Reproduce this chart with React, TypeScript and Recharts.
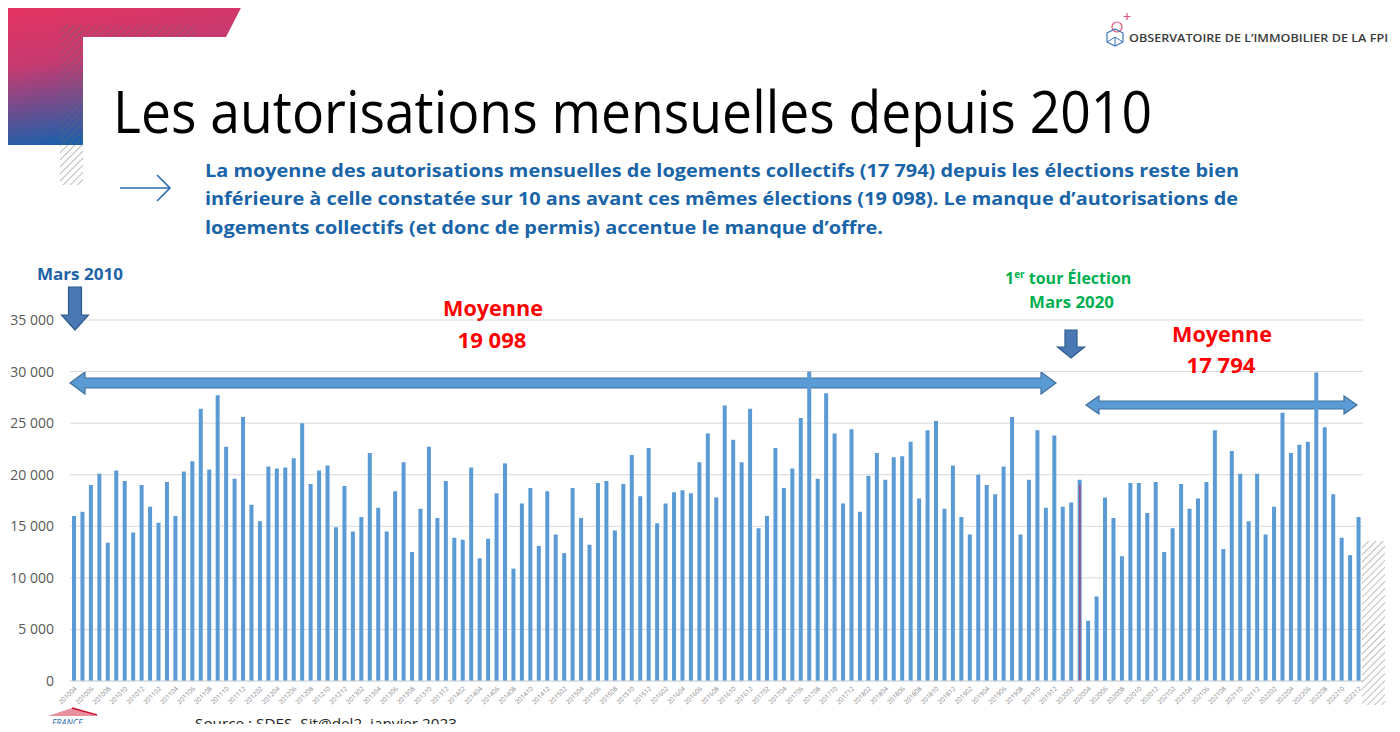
import React from 'react';
import { BarChart, Bar, XAxis, YAxis, CartesianGrid, ReferenceLine } from 'recharts';

// autorisations mensuelles de logements collectifs
const v2010 = [16000, 16400, 19000, 20100, 13400, 20400, 19400, 14400, 19000]; // avril -> décembre
const v2011 = [16900, 15350, 19300, 16000, 20300, 21300, 26400, 20500, 27700, 22700, 19600, 25600];
const v2012 = [17100, 15500, 20800, 20600, 20700, 21600, 25000, 19100, 20400, 20900, 14900, 18900];
const v2013 = [14500, 15900, 22100, 16800, 14500, 18400, 21200, 12500, 16700, 22700, 15800, 19400];
const v2014 = [13900, 13700, 20700, 11900, 13800, 18200, 21100, 10900, 17200, 18700, 13100, 18400];
const v2015 = [14200, 12400, 18700, 15800, 13200, 19200, 19400, 14600, 19100, 21900, 17900, 22600];
const v2016 = [15300, 17200, 18300, 18500, 18200, 21200, 24000, 17800, 26700, 23400, 21200, 26400];
const v2017 = [14800, 16000, 22600, 18700, 20600, 25500, 30000, 19600, 27900, 24000, 17200, 24400];
const v2018 = [16400, 19900, 22100, 19500, 21700, 21800, 23200, 17700, 24300, 25200, 16700, 20900];
const v2019 = [15900, 14200, 20000, 19000, 18100, 20800, 25600, 14200, 19500, 24300, 16800, 23800];
const v2020 = [16900, 17300, 19500, 5840, 8200, 17800, 15800, 12100, 19200, 19200, 16300, 19300];
const v2021 = [12500, 14800, 19100, 16700, 17700, 19300, 24300, 12800, 22300, 20100, 15500, 20100];
const v2022 = [14200, 16900, 26000, 22100, 22900, 23200, 29900, 24600, 18100, 13900, 12200, 15900];

const years = [2010, 2011, 2012, 2013, 2014, 2015, 2016, 2017, 2018, 2019, 2020, 2021, 2022];
const values = [v2010, v2011, v2012, v2013, v2014, v2015, v2016, v2017, v2018, v2019, v2020, v2021, v2022];
const firstMonth = 4;

const yTicks = [0, 5000, 10000, 15000, 20000, 25000, 30000, 35000];
const electionMonth = '202003';
const electionValue = 19000;

const data = years.flatMap((year, i) =>
  values[i].map((value, j) => {
    const m = (i === 0 ? firstMonth : 1) + j;
    return { month: `${year}${String(m).padStart(2, '0')}`, value };
  })
);

const fmt = (n: number) => String(n).replace(/\B(?=(\d{3})+(?!\d))/g, ' ');

const MonthTick = (props: any) => {
  const { x, y, payload } = props;
  return (
    <text
      transform={`translate(${x + 3},${y + 6}) rotate(-45)`}
      textAnchor="end"
      fontSize={6.5}
      fill="#8a8a8a"
      fontFamily="'Open Sans', sans-serif"
    >
      {payload.value}
    </text>
  );
};

const DoubleArrow = ({ x1, x2, y, shaft, head, len }: any) => (
  <polygon
    points={[
      [x1, y],
      [x1 + len, y - head / 2],
      [x1 + len, y - shaft / 2],
      [x2 - len, y - shaft / 2],
      [x2 - len, y - head / 2],
      [x2, y],
      [x2 - len, y + head / 2],
      [x2 - len, y + shaft / 2],
      [x1 + len, y + shaft / 2],
      [x1 + len, y + head / 2],
    ]
      .map((p) => p.join(','))
      .join(' ')}
    fill="#5b9bd5"
    stroke="#41719c"
    strokeWidth={1.2}
  />
);

const DownArrow = ({ x, y1, y2, shaft, head, len }: any) => (
  <polygon
    points={[
      [x - shaft / 2, y1],
      [x + shaft / 2, y1],
      [x + shaft / 2, y2 - len],
      [x + head / 2, y2 - len],
      [x, y2],
      [x - head / 2, y2 - len],
      [x - shaft / 2, y2 - len],
    ]
      .map((p) => p.join(','))
      .join(' ')}
    fill="#4a78b4"
    stroke="#2f5b8c"
    strokeWidth={1.2}
  />
);

export default function App() {
  const sans = "'Open Sans', 'Noto Sans', sans-serif";
  return (
    <div style={{ position: 'relative', width: 1400, height: 732, margin: -8, overflow: 'hidden', background: '#fff' }}>
      {/* flèches de période, sous les barres */}
      <svg width={1400} height={732} style={{ position: 'absolute', left: 0, top: 0 }}>
        <DoubleArrow x1={70} x2={1056} y={383} shaft={10} head={22} len={15} />
        <DoubleArrow x1={1086} x2={1357} y={405} shaft={8} head={18} len={13} />
      </svg>

      <div style={{ position: 'absolute', left: 0, top: 0 }}>
        <BarChart
          width={1400}
          height={732}
          data={data}
          margin={{ top: 320, right: 37, left: 0, bottom: 0 }}
          barSize={4}
        >
          <CartesianGrid vertical={false} stroke="#d9d9d9" />
          <XAxis
            dataKey="month"
            interval={1}
            height={51}
            tickLine={false}
            tickSize={0}
            axisLine={{ stroke: '#d9d9d9' }}
            tick={<MonthTick />}
          />
          <YAxis
            width={70}
            domain={[0, 35000]}
            ticks={yTicks}
            tickFormatter={fmt}
            axisLine={false}
            tickLine={false}
            tickSize={0}
            tickMargin={16}
            tick={{ fill: '#595959', fontSize: 14, fontFamily: sans }}
          />
          <Bar dataKey="value" fill="#5b9bd5" barSize={4} isAnimationActive={false} />
          <ReferenceLine
            segment={[
              { x: electionMonth, y: 0 },
              { x: electionMonth, y: electionValue },
            ]}
            stroke="#a8467c"
            strokeWidth={1.5}
            ifOverflow="visible"
          />
        </BarChart>
      </div>

      {/* habillage de la diapositive */}
      <svg width={1400} height={732} style={{ position: 'absolute', left: 0, top: 0, pointerEvents: 'none' }}>
        <defs>
          <linearGradient id="deco" x1="0" y1="0" x2="0.25" y2="1">
            <stop offset="0" stopColor="#ea3360" />
            <stop offset="0.45" stopColor="#c63a70" />
            <stop offset="1" stopColor="#1a60ab" />
          </linearGradient>
          <pattern id="hatch" width="5" height="5" patternUnits="userSpaceOnUse" patternTransform="rotate(45)">
            <line x1="0" y1="0" x2="0" y2="5" stroke="#6a6a6a" strokeWidth={0.9} />
          </pattern>
        </defs>
        <polygon points="0,0 245,0 226,37 83,37 83,145 0,145" fill="url(#deco)" />
        <rect x={60} y={25} width={136} height={12} fill="url(#hatch)" />
        <rect x={60} y={25} width={23} height={160} fill="url(#hatch)" />
        <rect x={1362} y={541} width={23} height={164} fill="url(#hatch)" />

        {/* logo */}
        <circle cx={1117} cy={27} r={5} fill="none" stroke="#e2557a" strokeWidth={1.2} />
        <path d="M1127 13 v7 M1123.5 16.5 h7" stroke="#e2557a" strokeWidth={1.2} />
        <polygon points="1107,33 1115,29 1123,33 1123,42 1115,46 1107,42" fill="none" stroke="#3d74b8" strokeWidth={1.2} />
        <path d="M1107,42 L1115,37 L1123,42 M1115,37 V46" stroke="#3d74b8" strokeWidth={1} fill="none" />
        <text x={1129} y={42} fontSize={10} fontWeight={600} fill="#3a3a3a" fontFamily={sans} textLength={259} lengthAdjust="spacingAndGlyphs">
          OBSERVATOIRE DE L’IMMOBILIER DE LA FPI
        </text>

        <text x={113} y={133} fontSize={58} fill="#000" fontFamily={sans} textLength={1039} lengthAdjust="spacingAndGlyphs">
          Les autorisations mensuelles depuis 2010
        </text>

        <path d="M120 188 H169 M157 175 L170 188 L157 201" stroke="#2e6db0" strokeWidth={1.6} fill="none" />
        <g fontSize={18} fontWeight={700} fill="#1a64a8" fontFamily={sans}>
          <text x={205} y={177} textLength={1034} lengthAdjust="spacingAndGlyphs">
            La moyenne des autorisations mensuelles de logements collectifs (17 794) depuis les élections reste bien
          </text>
          <text x={205} y={205} textLength={1033} lengthAdjust="spacingAndGlyphs">
            inférieure à celle constatée sur 10 ans avant ces mêmes élections (19 098). Le manque d’autorisations de
          </text>
          <text x={205} y={234} textLength={678} lengthAdjust="spacingAndGlyphs">
            logements collectifs (et donc de permis) accentue le manque d’offre.
          </text>
        </g>

        {/* annotations du graphique */}
        <text x={37} y={280} fontSize={16} fontWeight={700} fill="#1e63a5" fontFamily={sans} textLength={86} lengthAdjust="spacingAndGlyphs">
          Mars 2010
        </text>
        <DownArrow x={75} y1={287} y2={330} shaft={13} head={27} len={15} />

        <g fontSize={21} fontWeight={700} fill="#ff0000" fontFamily={sans} textAnchor="middle">
          <text x={493} y={316} textLength={100} lengthAdjust="spacingAndGlyphs">Moyenne</text>
          <text x={492} y={348} textLength={69} lengthAdjust="spacingAndGlyphs">19 098</text>
          <text x={1222} y={342} textLength={100} lengthAdjust="spacingAndGlyphs">Moyenne</text>
          <text x={1221} y={373} textLength={69} lengthAdjust="spacingAndGlyphs">17 794</text>
        </g>

        <g fontSize={16} fontWeight={700} fill="#00b050" fontFamily={sans}>
          <text x={1005} y={284}>
            1<tspan fontSize={10} dy={-6}>er</tspan>
            <tspan dy={6}> tour Élection</tspan>
          </text>
          <text x={1029} y={308} textLength={85} lengthAdjust="spacingAndGlyphs">Mars 2020</text>
        </g>
        <DownArrow x={1071} y1={330} y2={358} shaft={12} head={27} len={11} />

        {/* pied de page */}
        <polygon points="48,716 72,708 97,716" fill="#e8909e" />
        <path d="M72 708 L97 715" stroke="#c8102e" strokeWidth={1.5} />
        <text x={52} y={726} fontSize={9} fontStyle="italic" fill="#2b6cb0" fontFamily={sans}>FRANCE</text>
        <text x={195} y={729} fontSize={15} fill="#222" fontFamily={sans} textLength={262} lengthAdjust="spacingAndGlyphs">
          Source : SDES, Sit@del2, janvier 2023
        </text>
        <rect x={1240} y={727} width={145} height={3} fill="#e8335e" />
      </svg>
    </div>
  );
}
